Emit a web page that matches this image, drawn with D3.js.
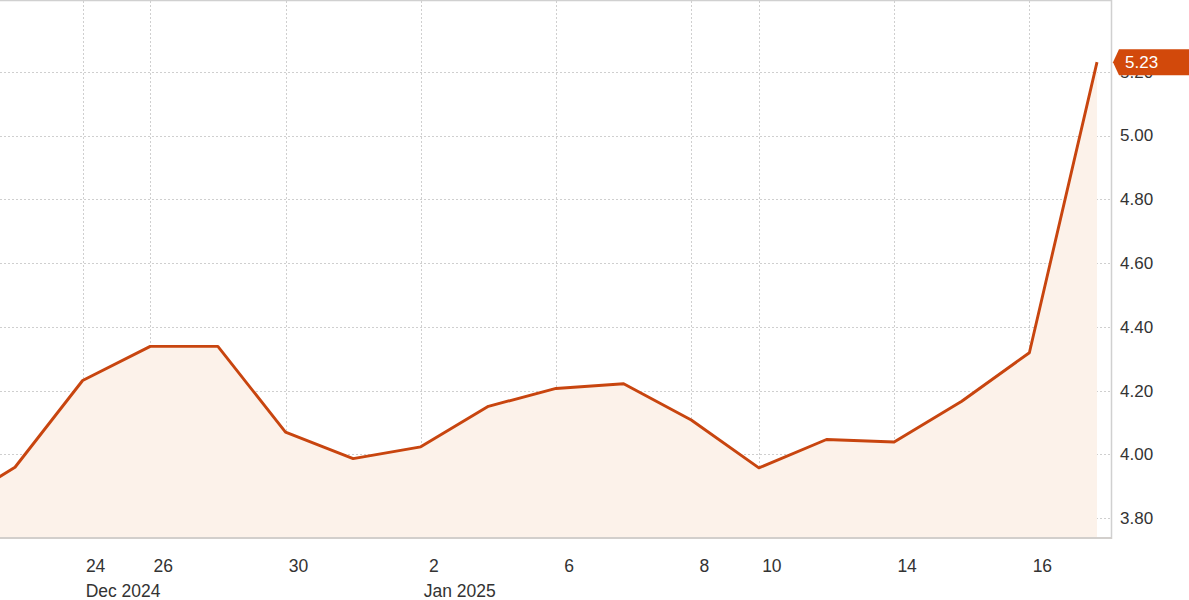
<!DOCTYPE html>
<html>
<head>
<meta charset="utf-8">
<script src="https://cdn.jsdelivr.net/npm/d3@7"></script>
<style>
  html, body { margin: 0; padding: 0; background: #fff; }
  svg { display: block; font-family: Arial, "Liberation Sans", Helvetica, sans-serif; }
</style>
</head>
<body>
<svg id="chart" width="1189" height="600"></svg>
<script>
// Trading days (index-based x axis)
const dates = ["2024-12-20","2024-12-23","2024-12-24","2024-12-26","2024-12-27","2024-12-30","2024-12-31",
               "2025-01-02","2025-01-03","2025-01-06","2025-01-07","2025-01-08","2025-01-10",
               "2025-01-13","2025-01-14","2025-01-15","2025-01-16","2025-01-17"];
const values = [3.83, 3.960, 4.232, 4.339, 4.339, 4.070, 3.987,
                4.024, 4.151, 4.207, 4.222, 4.108, 3.958,
                4.047, 4.039, 4.167, 4.319, 5.23];
// Labeled x ticks (dates) and their texts
const xTickDates = ["2024-12-24","2024-12-26","2024-12-30","2025-01-02","2025-01-06","2025-01-08","2025-01-10","2025-01-14","2025-01-16"];
const xTickLabels = ["24","26","30","2","6","8","10","14","16"];
const monthTickDates = ["2024-12-24","2025-01-02"];
const monthLabels = ["Dec 2024","Jan 2025"];
const yTicks = [3.80, 4.00, 4.20, 4.40, 4.60, 4.80, 5.00, 5.20];
const lastLabel = "5.23";

const W = 1189, H = 600;
const plot = {left: 0, right: 1111, top: 1, bottom: 538};
const svg = d3.select("#chart");

const idx = d => dates.indexOf(d);
const x = d3.scaleLinear().domain([1, 17]).range([15, 1097]);
const y = d3.scaleLinear().domain([3.80, 5.20]).range([518.3, 71.7]);

const data = values.map((v, i) => ({i, v}));

svg.append("defs").append("clipPath").attr("id", "clip")
  .append("rect").attr("x", plot.left).attr("y", plot.top)
  .attr("width", plot.right - plot.left).attr("height", plot.bottom - plot.top);

const grid = svg.append("g");
// horizontal gridlines
grid.selectAll("line.h").data(yTicks).join("line")
  .attr("x1", plot.left).attr("x2", plot.right)
  .attr("y1", d => Math.round(y(d)) + 0.5).attr("y2", d => Math.round(y(d)) + 0.5)
  .attr("stroke", "#cfcfcf").attr("stroke-width", 1).attr("stroke-dasharray", "2,2");
// vertical gridlines
grid.selectAll("line.v").data(xTickDates).join("line")
  .attr("x1", d => Math.round(x(idx(d))) + 0.5).attr("x2", d => Math.round(x(idx(d))) + 0.5)
  .attr("y1", plot.top).attr("y2", plot.bottom)
  .attr("stroke", "#cfcfcf").attr("stroke-width", 1).attr("stroke-dasharray", "2,2");

const g = svg.append("g").attr("clip-path", "url(#clip)");
const area = d3.area().x(d => x(d.i)).y0(plot.bottom).y1(d => y(d.v));
const line = d3.line().x(d => x(d.i)).y(d => y(d.v));
g.append("path").datum(data).attr("d", area).attr("fill", "#fcf2ea");
g.append("path").datum(data).attr("d", line).attr("fill", "none")
  .attr("stroke", "#c8450f").attr("stroke-width", 2.9).attr("stroke-linejoin", "round");

// frame
svg.append("line").attr("x1", 0).attr("x2", plot.right).attr("y1", 0.5).attr("y2", 0.5)
  .attr("stroke", "#d0d0d0").attr("stroke-width", 1.5);
svg.append("line").attr("x1", plot.right + 0.5).attr("x2", plot.right + 0.5).attr("y1", 0).attr("y2", plot.bottom + 1)
  .attr("stroke", "#d0d0d0").attr("stroke-width", 1.5);
svg.append("line").attr("x1", 0).attr("x2", plot.right + 1).attr("y1", plot.bottom).attr("y2", plot.bottom)
  .attr("stroke", "#d2cfcc").attr("stroke-width", 2);

// y axis
const yAxis = d3.axisRight(y).tickValues(yTicks).tickFormat(d3.format(".2f")).tickSize(0).tickPadding(0);
const ya = svg.append("g").attr("transform", `translate(${plot.right + 9},0)`).call(yAxis);
ya.select(".domain").remove();
ya.selectAll("text").attr("font-size", 17).attr("fill", "#333")
  .attr("font-family", "Arial, 'Liberation Sans', sans-serif");

// x axis: day labels
const xa = svg.append("g");
xa.selectAll("text.day").data(xTickDates).join("text")
  .attr("x", (d) => x(idx(d)) + 13).attr("y", 572)
  .attr("text-anchor", "middle").attr("font-size", 17.5).attr("fill", "#333")
  .text((d, i) => xTickLabels[i]);
xa.selectAll("text.month").data(monthTickDates).join("text")
  .attr("x", d => x(idx(d)) + 3).attr("y", 597)
  .attr("text-anchor", "start").attr("font-size", 17.5).attr("fill", "#333")
  .text((d, i) => monthLabels[i]);

// last value tag
const ly = y(values[values.length - 1]);
const tagH = 26;
svg.append("path")
  .attr("d", `M${plot.right + 2},${ly} L${plot.right + 8},${ly - tagH / 2} L${W},${ly - tagH / 2} L${W},${ly + tagH / 2} L${plot.right + 8},${ly + tagH / 2} Z`)
  .attr("fill", "#d2490b");
svg.append("text").attr("x", plot.right + 14).attr("y", ly + 6)
  .attr("font-size", 17).attr("fill", "#fff").text(lastLabel);
</script>
</body>
</html>
